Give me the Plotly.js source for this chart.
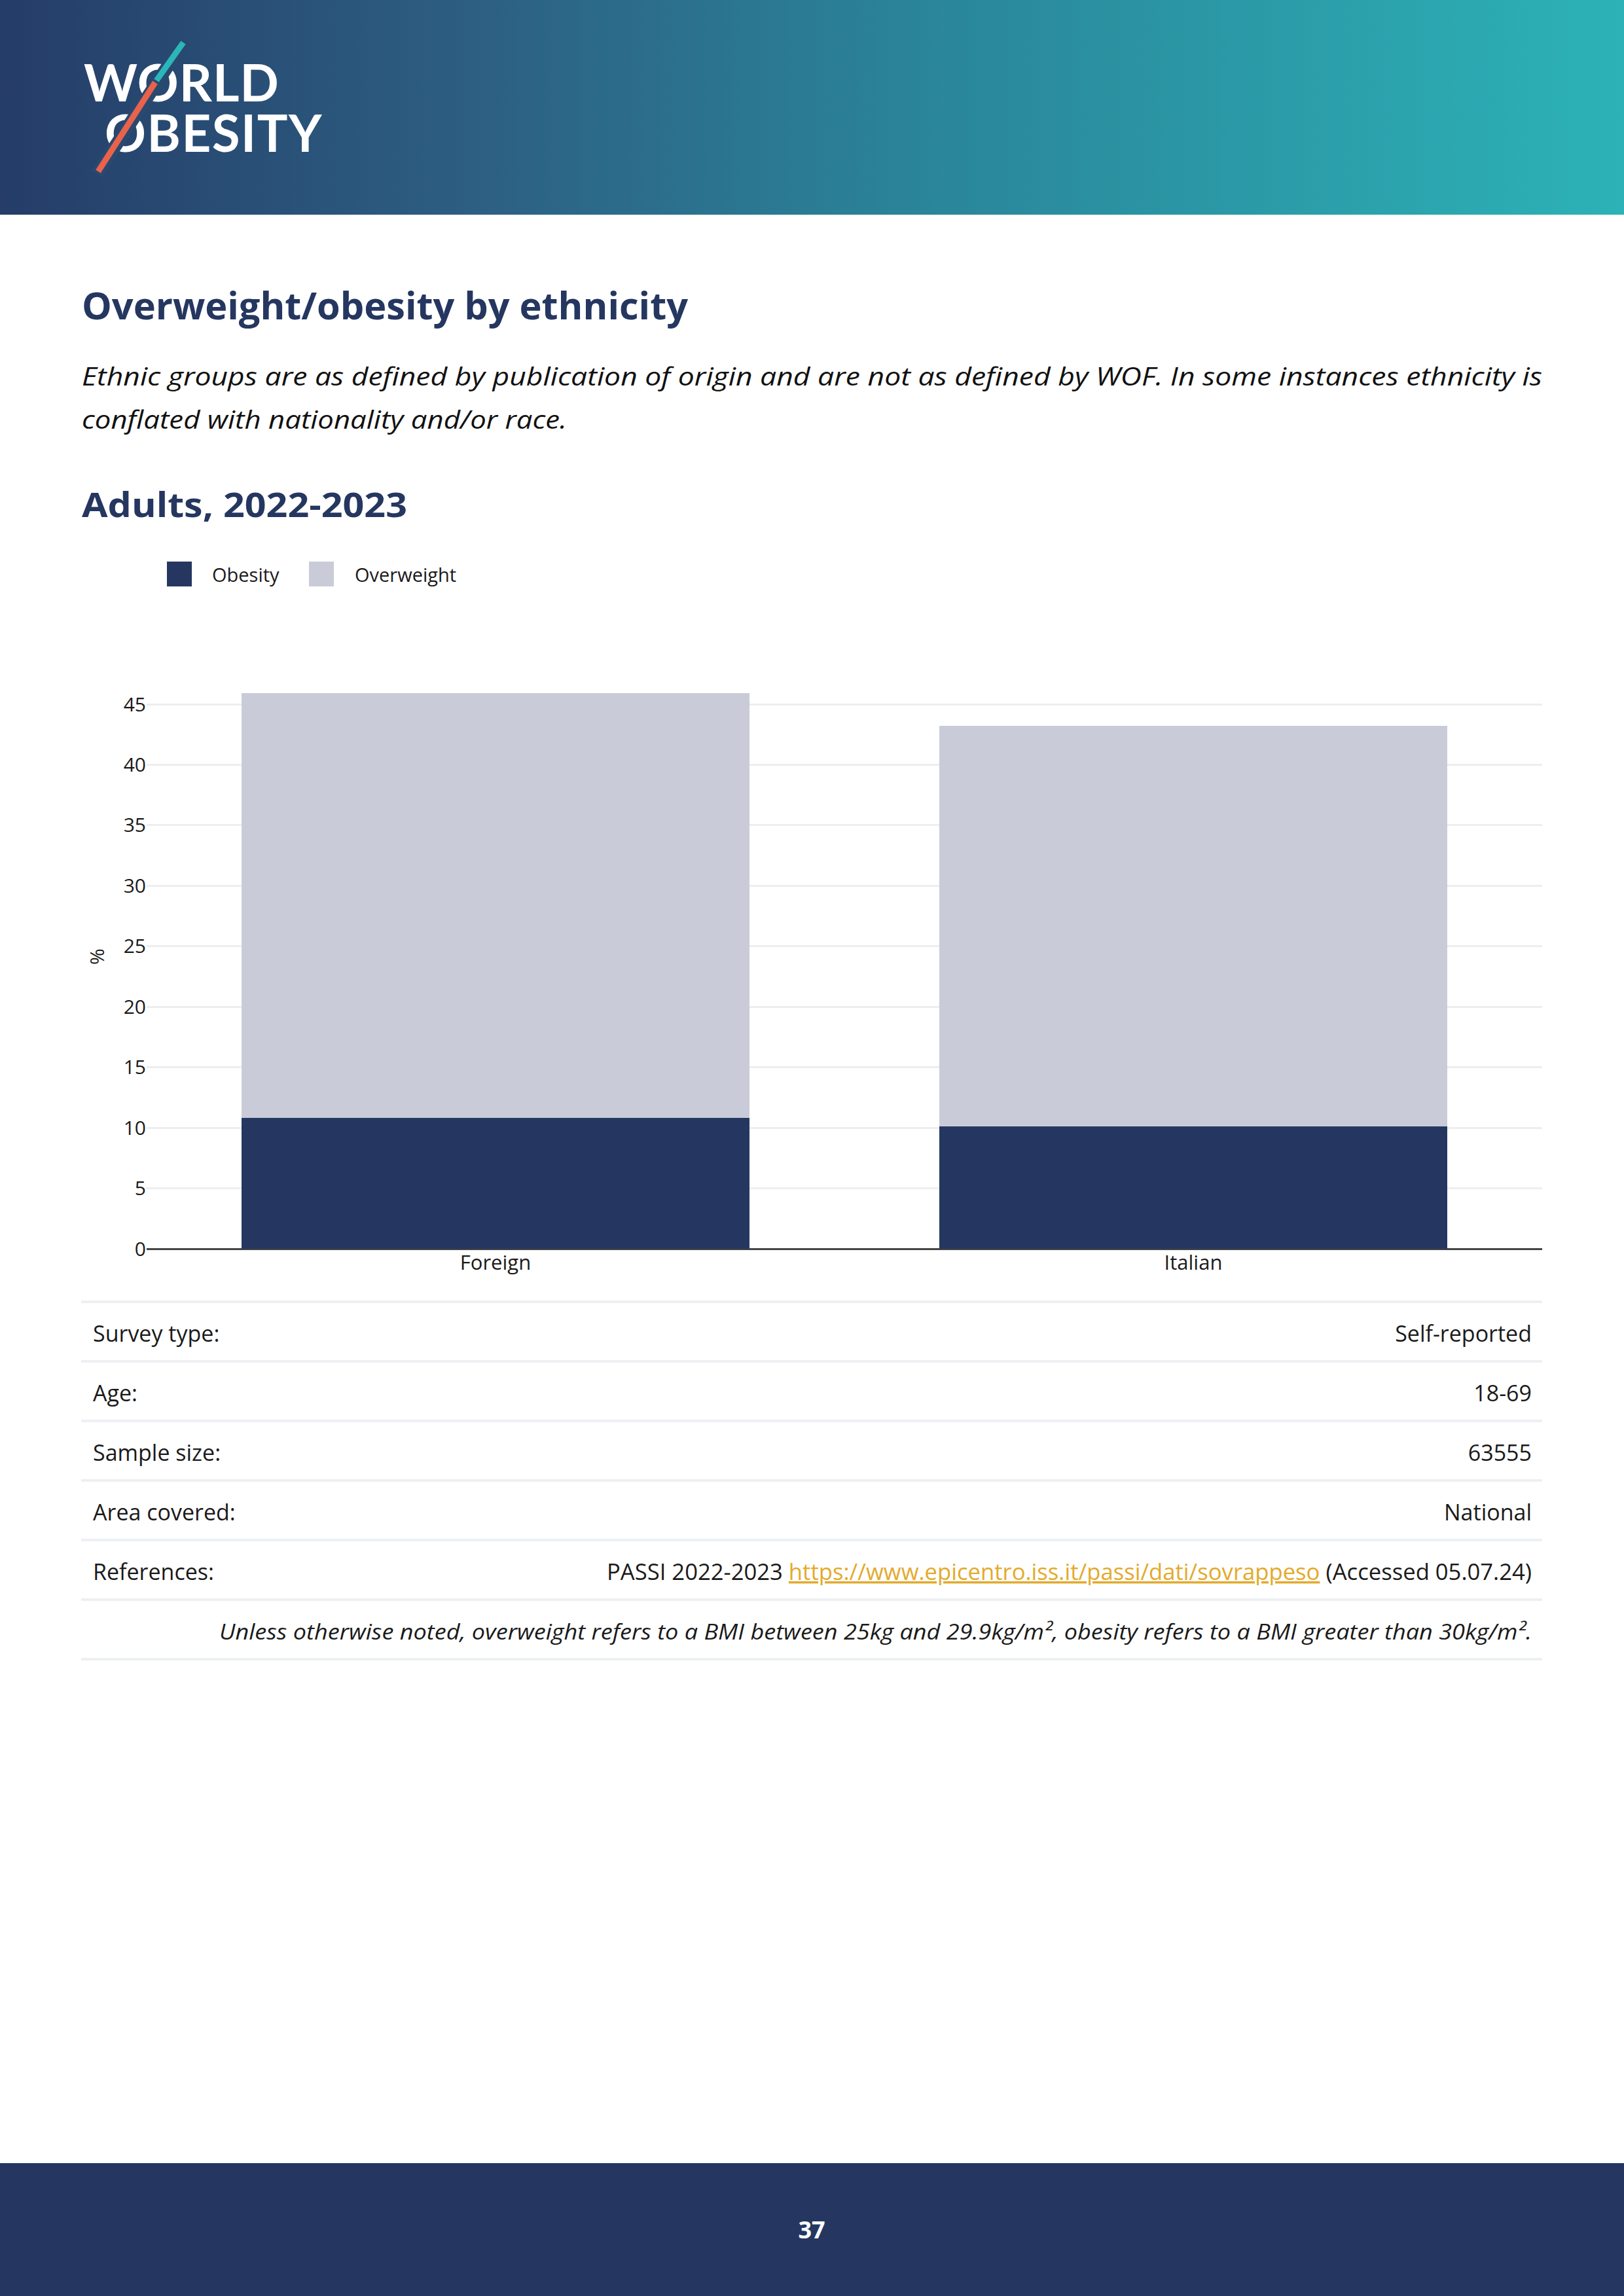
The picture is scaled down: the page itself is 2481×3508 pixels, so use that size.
<!DOCTYPE html>
<html>
<head>
<meta charset="utf-8">
<script src="https://cdn.plot.ly/plotly-3.0.1.min.js"></script>
<style>
html, body { margin: 0; padding: 0; background: #ffffff; }
#page { position: relative; width: 2481px; height: 3508px; overflow: hidden; font-family: "Open Sans", sans-serif; }
#deco { position: absolute; left: 0; top: 0; }
#chart { position: absolute; left: 0; top: 820px; width: 2481px; height: 1200px; }
</style>
</head>
<body>
<div id="page">
<svg id="deco" width="2481" height="3508" xmlns="http://www.w3.org/2000/svg">
  <defs>
    <linearGradient id="hg" x1="0" x2="1" y1="0" y2="0">
      <stop offset="0" stop-color="#253d68"/>
      <stop offset="0.3" stop-color="#2d6083"/>
      <stop offset="0.55" stop-color="#2a8398"/>
      <stop offset="1" stop-color="#2cb2b7"/>
    </linearGradient>
  </defs>
  <rect x="0" y="0" width="2481" height="328" fill="url(#hg)"/>
  <!-- logo -->
  <text font-family="Lato" font-weight="700" font-size="78" fill="#ffffff">
    <tspan x="128" y="155" letter-spacing="1">WORLD</tspan>
    <tspan x="160" y="232" letter-spacing="1.5">OBESITY</tspan>
  </text>
  <line x1="282" y1="62" x2="148" y2="266" stroke="#29496f" stroke-width="20"/>
  <line x1="280" y1="65" x2="239" y2="123" stroke="#2bb6b9" stroke-width="9"/>
  <line x1="237" y1="126" x2="150" y2="262" stroke="#e8624c" stroke-width="9"/>

  <!-- headings -->
  <text x="125" y="488" font-family="Open Sans" font-weight="700" font-size="58" fill="#253760" textLength="926" lengthAdjust="spacingAndGlyphs">Overweight/obesity by ethnicity</text>
  <text x="125" y="589" font-family="Open Sans" font-style="italic" font-size="39" fill="#111111" textLength="2231" lengthAdjust="spacingAndGlyphs">Ethnic groups are as defined by publication of origin and are not as defined by WOF. In some instances ethnicity is</text>
  <text x="125" y="655" font-family="Open Sans" font-style="italic" font-size="39" fill="#111111" textLength="741" lengthAdjust="spacingAndGlyphs">conflated with nationality and/or race.</text>
  <text x="125" y="790" font-family="Open Sans" font-weight="700" font-size="52" fill="#253760" textLength="497" lengthAdjust="spacingAndGlyphs">Adults, 2022-2023</text>

  <!-- table -->
  <g id="table"></g>

  <!-- footer -->
  <rect x="0" y="3305" width="2481" height="203" fill="#253760"/>
  <text x="1240" y="3420" text-anchor="middle" font-family="Open Sans" font-weight="700" font-size="36" fill="#ffffff">37</text>
</svg>
<div id="chart"></div>
</div>
<script>
// ---------- data ----------
const categories = ["Foreign", "Italian"];
const obesity = [10.8, 10.1];
const overweight = [35.1, 33.1];
const seriesNames = ["Obesity", "Overweight"];
const seriesColors = ["#253760", "#c9ccd8"];
const yTickValues = [0, 5, 10, 15, 20, 25, 30, 35, 40, 45];
const yTickLabels = ["0", "5", "10", "15", "20", "25", "30", "35", "40", "45"];

const tableLabels = ["Survey type:", "Age:", "Sample size:", "Area covered:", "References:"];
const tableValues = ["Self-reported", "18-69", "63555", "National", null];
const refPrefix = "PASSI 2022-2023 ";
const refLink = "https://www.epicentro.iss.it/passi/dati/sovrappeso";
const refSuffix = " (Accessed 05.07.24)";
const noteText = "Unless otherwise noted, overweight refers to a BMI between 25kg and 29.9kg/m², obesity refers to a BMI greater than 30kg/m².";

// ---------- table (SVG) ----------
const NS = "http://www.w3.org/2000/svg";
const tg = document.getElementById("table");
function el(tag, attrs, text) {
  const e = document.createElementNS(NS, tag);
  for (const k in attrs) e.setAttribute(k, attrs[k]);
  if (text !== undefined) e.textContent = text;
  return e;
}
const lineTops = [1987, 2078, 2169, 2260, 2351, 2442, 2533];
lineTops.forEach(y => tg.appendChild(el("rect", {x: 124, y: y, width: 2232, height: 4, fill: "#edf0f3"})));
const baselines = [2050, 2141, 2232, 2323, 2414];
tableLabels.forEach((lab, i) => {
  tg.appendChild(el("text", {x: 142, y: baselines[i], "font-family": "Open Sans", "font-size": 34, fill: "#1a1a1a"}, lab));
  if (tableValues[i] !== null) {
    tg.appendChild(el("text", {x: 2340, y: baselines[i], "text-anchor": "end", "font-family": "Open Sans", "font-size": 34, fill: "#1a1a1a"}, tableValues[i]));
  }
});
const ref = el("text", {x: 2340, y: baselines[4], "text-anchor": "end", "font-family": "Open Sans", "font-size": 34, fill: "#1a1a1a", textLength: 1413, lengthAdjust: "spacingAndGlyphs"});
ref.appendChild(el("tspan", {}, refPrefix));
ref.appendChild(el("tspan", {fill: "#e3aa2c", "text-decoration": "underline"}, refLink));
ref.appendChild(el("tspan", {}, refSuffix));
tg.appendChild(ref);
tg.appendChild(el("text", {x: 2340, y: 2505, "text-anchor": "end", "font-family": "Open Sans", "font-style": "italic", "font-size": 33, fill: "#1a1a1a", textLength: 2005, lengthAdjust: "spacingAndGlyphs"}, noteText));

// ---------- chart ----------
const M = {l: 224, r: 125, t: 195, b: 112};
const W = 2481, H = 1200;
const pw = W - M.l - M.r, ph = H - M.t - M.b;
function px2x(px) { return (px - M.l) / pw; }
function py2y(py) { return (820 + M.t + ph - py) / ph; }

const traces = [
  {type: "bar", name: seriesNames[0], x: categories, y: obesity, marker: {color: seriesColors[0]}, hoverinfo: "skip"},
  {type: "bar", name: seriesNames[1], x: categories, y: overweight, marker: {color: seriesColors[1]}, hoverinfo: "skip"}
];

// custom legend (large squares as in the reference)
const legendSquares = [255, 472];
const legendTexts = [322, 540];
const shapes = [], annotations = [];
seriesNames.forEach((n, i) => {
  shapes.push({type: "rect", xref: "paper", yref: "paper",
    x0: px2x(legendSquares[i]), x1: px2x(legendSquares[i] + 38),
    y0: py2y(896), y1: py2y(858), fillcolor: seriesColors[i], line: {width: 0}});
  annotations.push({xref: "paper", yref: "paper", x: px2x(legendTexts[i]), y: py2y(878),
    xanchor: "left", yanchor: "middle", showarrow: false, text: n,
    font: {family: "Open Sans", size: 29, color: "#1a1a1a"}});
});

const layout = {
  width: W, height: H,
  margin: M,
  barmode: "stack",
  bargap: 0.272,
  showlegend: false,
  paper_bgcolor: "rgba(0,0,0,0)",
  plot_bgcolor: "rgba(0,0,0,0)",
  font: {family: "Open Sans", size: 30, color: "#1a1a1a"},
  xaxis: {
    type: "category",
    showgrid: false, showline: false, zeroline: false,
    ticks: "", tickfont: {family: "Open Sans", size: 31, color: "#1a1a1a"}
  },
  yaxis: {
    range: [0, 48.3],
    tickvals: yTickValues, ticktext: yTickLabels,
    showgrid: true, gridcolor: "#eeeeee", gridwidth: 3,
    zeroline: true, zerolinecolor: "#444444", zerolinewidth: 3,
    showline: false, ticks: "",
    tickfont: {family: "Open Sans", size: 30, color: "#1a1a1a"},
    title: {text: "%", standoff: 20, font: {family: "Open Sans", size: 30, color: "#1a1a1a"}}
  },
  shapes: shapes,
  annotations: annotations
};

Plotly.newPlot("chart", traces, layout, {displayModeBar: false, staticPlot: true});
</script>
</body>
</html>
